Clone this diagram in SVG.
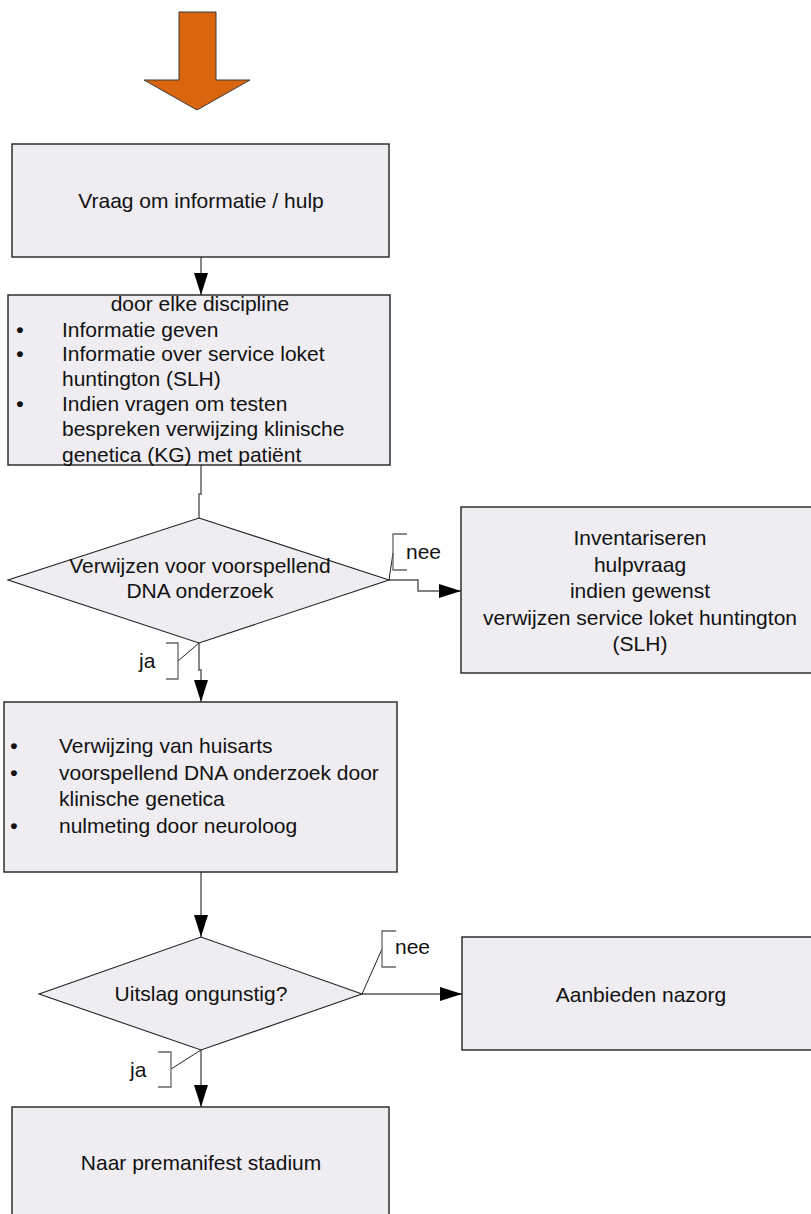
<svg xmlns="http://www.w3.org/2000/svg" width="811" height="1214" viewBox="0 0 811 1214">
  <style>
    .box { fill: #efedf2; stroke: #222; stroke-width: 1.4; }
    .dia { fill: #efedf2; stroke: #222; stroke-width: 1.1; }
    .t { font-family: "Liberation Sans", Arial, sans-serif; font-size: 21px; fill: #111; }
    .b { font-family: "Liberation Sans", Arial, sans-serif; font-size: 21px; font-weight: bold; fill: #111; text-anchor: middle; }
    .c { text-anchor: middle; }
    .conn { fill: none; stroke: #555; stroke-width: 1.4; }
    .lead { fill: none; stroke: #222; stroke-width: 1; }
    .brk { fill: none; stroke: #666; stroke-width: 1.3; }
  </style>
  <defs>
    <marker id="ah" markerUnits="userSpaceOnUse" markerWidth="22" markerHeight="14" refX="22" refY="7" orient="auto">
      <path d="M0,0 L22,7 L0,14 z" fill="#000"/>
    </marker>
  </defs>

  <!-- start arrow -->
  <g id="start">
    <polygon points="179,12 216,12 216,80 250,80 197,110 144,80 179,80" fill="#d9650f" stroke="#3a3a3a" stroke-width="1"/>
  </g>

  <!-- connectors -->
  <g id="connectors">
    <path class="conn" d="M201,257 V295" marker-end="url(#ah)"/>
    <path class="conn" d="M201,465 V494 H199 V518"/>
    <path class="conn" d="M199,643 V670 H201 V702" marker-end="url(#ah)"/>
    <path class="conn" d="M389,580 H418 V591 H461" marker-end="url(#ah)"/>
    <path class="conn" d="M201,872 V937" marker-end="url(#ah)"/>
    <path class="conn" d="M362,994 H462" marker-end="url(#ah)"/>
    <path class="conn" d="M201,1050 V1107" marker-end="url(#ah)"/>

    <!-- branch labels -->
    <path class="lead" d="M389,580 L393,553"/>
    <path class="brk" d="M407,534 H393 V570 H407"/>
    <text class="t" x="406" y="559">nee</text>

    <path class="lead" d="M199,643 L178,661"/>
    <path class="brk" d="M166,643 H178 V679 H166"/>
    <text class="t" x="139" y="668">ja</text>

    <path class="lead" d="M362,994 L382,949"/>
    <path class="brk" d="M396,931 H382 V967 H396"/>
    <text class="t" x="395" y="954">nee</text>

    <path class="lead" d="M201,1050 L171,1069"/>
    <path class="brk" d="M158,1052 H171 V1087 H158"/>
    <text class="t" x="130" y="1077">ja</text>
  </g>

  <g id="vraag">
    <rect class="box" x="12" y="144" width="377" height="113"/>
    <text class="t c" x="201" y="208">Vraag om informatie / hulp</text>
  </g>

  <g id="discipline">
    <rect class="box" x="8" y="295" width="382" height="170"/>
    <text class="t c" x="200" y="311">door elke discipline</text>
    <text class="b" x="20" y="337">•</text>
    <text class="t" x="62" y="337">Informatie geven</text>
    <text class="b" x="20" y="361">•</text>
    <text class="t" x="62" y="361">Informatie over service loket</text>
    <text class="t" x="62" y="386">huntington (SLH)</text>
    <text class="b" x="20" y="411">•</text>
    <text class="t" x="62" y="411">Indien vragen om testen</text>
    <text class="t" x="62" y="436">bespreken verwijzing klinische</text>
    <text class="t" x="62" y="462">genetica (KG) met patiënt</text>
  </g>

  <g id="verwijzen">
    <polygon class="dia" points="199,518 389,580 199,643 8,580"/>
    <text class="t c" x="200" y="573">Verwijzen voor voorspellend</text>
    <text class="t c" x="200" y="598">DNA onderzoek</text>
  </g>

  <g id="inventariseren">
    <rect class="box" x="461" y="507" width="358" height="166"/>
    <text class="t c" x="640" y="545">Inventariseren</text>
    <text class="t c" x="640" y="572">hulpvraag</text>
    <text class="t c" x="640" y="598">indien gewenst</text>
    <text class="t c" x="640" y="625">verwijzen service loket huntington</text>
    <text class="t c" x="640" y="651">(SLH)</text>
  </g>

  <g id="onderzoek">
    <rect class="box" x="4" y="702" width="393" height="170"/>
    <text class="b" x="14" y="753">•</text>
    <text class="t" x="59" y="753">Verwijzing van huisarts</text>
    <text class="b" x="14" y="780">•</text>
    <text class="t" x="59" y="780">voorspellend DNA onderzoek door</text>
    <text class="t" x="59" y="806">klinische genetica</text>
    <text class="b" x="14" y="833">•</text>
    <text class="t" x="59" y="833">nulmeting door neuroloog</text>
  </g>

  <g id="uitslag">
    <polygon class="dia" points="201,937 362,994 201,1050 39,994"/>
    <text class="t c" x="201" y="1001">Uitslag ongunstig?</text>
  </g>

  <g id="nazorg">
    <rect class="box" x="462" y="937" width="358" height="113"/>
    <text class="t c" x="641" y="1002">Aanbieden nazorg</text>
  </g>

  <g id="premanifest">
    <rect class="box" x="12" y="1107" width="377" height="125"/>
    <text class="t c" x="201" y="1170">Naar premanifest stadium</text>
  </g>
</svg>
